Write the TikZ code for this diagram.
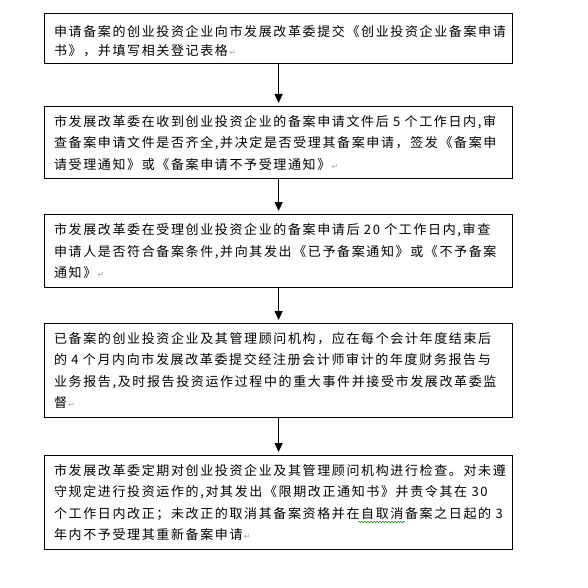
\documentclass[tikz,border=0pt]{standalone}
\usepackage{fontspec}
\setmainfont{Liberation Serif}
\newfontfamily\cjk[LetterSpace=12.5]{Noto Sans CJK SC}
\newfontfamily\markfont{DejaVu Sans}
\usetikzlibrary{arrows.meta,decorations.pathmorphing}
\newcommand{\pmark}{{\markfont\fontsize{8}{8}\selectfont\color{black!35}\,↵}}
\begin{document}
\begin{tikzpicture}[x=1pt,y=-1pt,
  box/.style={draw, line width=1.2pt, anchor=north west, minimum width=468pt,
    inner xsep=9.5pt, inner ysep=0pt, text width=449pt, align=left,
    font=\cjk\fontsize{13}{21.5}\selectfont},
  arr/.style={line width=1.1pt, -{Triangle[width=8pt,length=9pt]}, shorten >=3pt}]
\useasboundingbox (0,0) rectangle (587,588);

\node[box, minimum height=50pt, font=\cjk\fontsize{13}{19}\selectfont] (b1) at (44,13)
  {\rule{0pt}{16pt}申请备案的创业投资企业向市发展改革委提交《创业投资企业备案申请\\
   书》，并填写相关登记表格\pmark};

\node[box, minimum height=72pt] (b2) at (44,106)
  {市发展改革委在收到创业投资企业的备案申请文件后~5~个工作日内,审\\
   查备案申请文件是否齐全,并决定是否受理其备案申请，签发《备案申\\
   请受理通知》或《备案申请不予受理通知》\pmark};

\node[box, minimum height=73pt] (b3) at (44,214)
  {市发展改革委在受理创业投资企业的备案申请后~20~个工作日内,审查\\
   申请人是否符合备案条件,并向其发出《已予备案通知》或《不予备案\\
   通知》\pmark};

\node[box, minimum height=94pt] (b4) at (44,323)
  {已备案的创业投资企业及其管理顾问机构，应在每个会计年度结束后\\
   的~4~个月内向市发展改革委提交经注册会计师审计的年度财务报告与\\
   业务报告,及时报告投资运作过程中的重大事件并接受市发展改革委监\\
   督\pmark};

\node[box, minimum height=94pt] (b5) at (44,455)
  {市发展改革委定期对创业投资企业及其管理顾问机构进行检查。对未遵\\
   守规定进行投资运作的,对其发出《限期改正通知书》并责令其在~30\\
   个工作日内改正；未改正的取消其备案资格并在自取消备案之日起的~3\\
   年内不予受理其重新备案申请\pmark};

\draw[arr] (b1.south) -- (b2.north);
\draw[arr] (b2.south) -- (b3.north);
\draw[arr] (b3.south) -- (b4.north);
\draw[arr] (b4.south) -- (b5.north);

\draw[green!55!black, line width=0.5pt, decorate,
  decoration={snake, amplitude=0.7pt, segment length=3pt}] (358,522) -- (405,522);
\end{tikzpicture}
\end{document}
